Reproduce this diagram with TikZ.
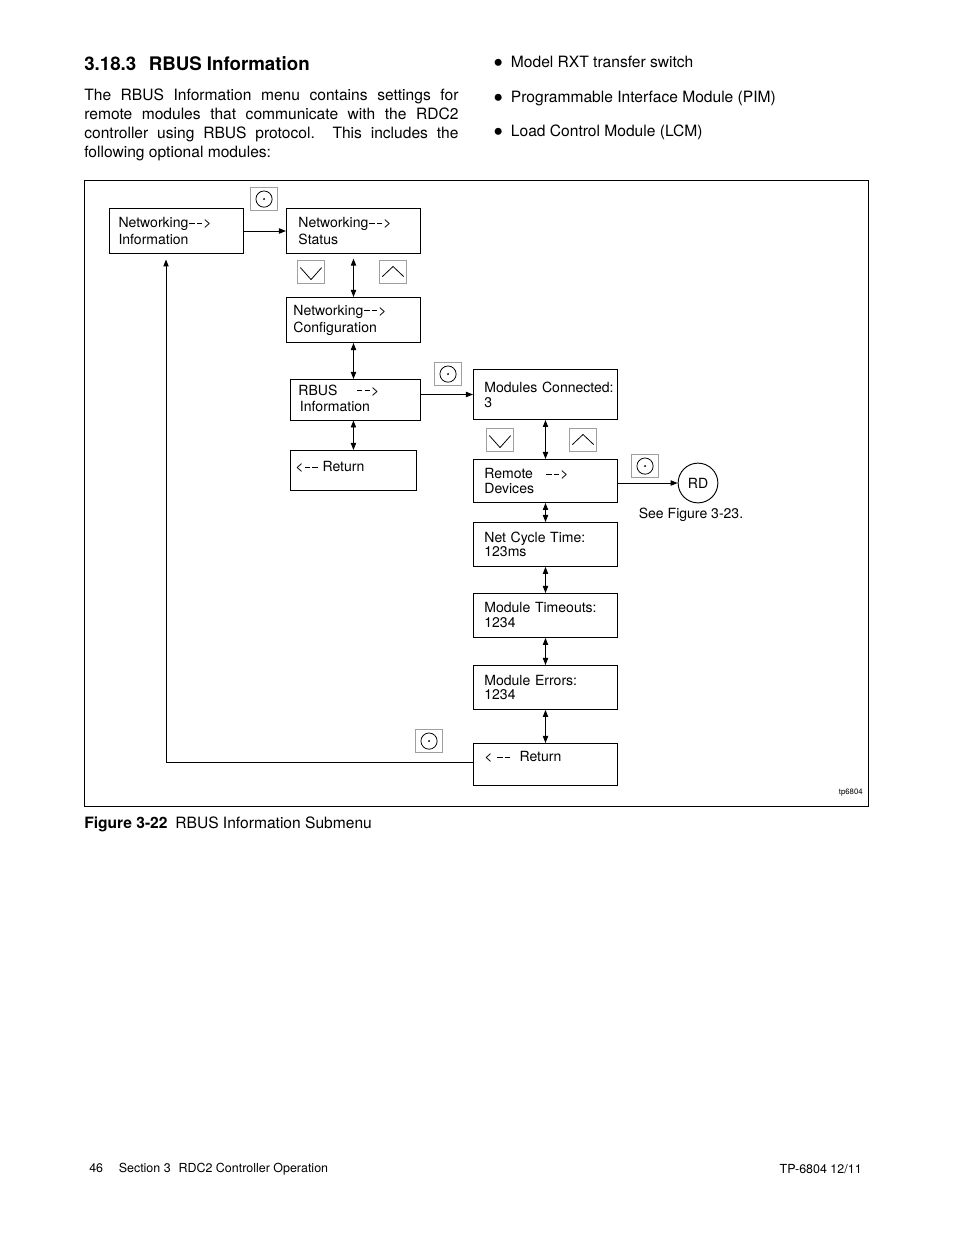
\documentclass[tikz,border=0pt]{standalone}
\usepackage{fontspec}
\setmainfont{TeX Gyre Heros}
\usetikzlibrary{arrows.meta}

\newcommand\dsh{\rule[2.5pt]{3.5pt}{0.6pt}}
\newcommand\rarr{\kern0.6pt\dsh\kern1.3pt\dsh\kern0.7pt>}
\newcommand\ddash{\dsh\kern1.3pt\dsh}
\newcommand\bigbullet{\raisebox{-3.3pt}{\fontsize{18}{12}\selectfont\textbullet}}

\tikzset{
  menubox/.style={draw, line width=0.6pt, anchor=north west, align=left,
    font=\fontsize{9}{11}\selectfont},
  keybox/.style={draw=gray!75, line width=0.7pt, anchor=north west,
    minimum width=17.3pt, minimum height=14.8pt, inner sep=0pt},
  selkey/.style={keybox, path picture={
    \draw[black, line width=0.5pt] (path picture bounding box.center) circle (5.2pt);
    \fill[black] (path picture bounding box.center) circle (0.7pt);}},
  dnkey/.style={keybox, path picture={
    \draw[black, line width=0.5pt] ([xshift=1.8pt,yshift=-4.5pt]path picture bounding box.north west)
      -- ([yshift=2.6pt]path picture bounding box.south)
      -- ([xshift=-1.8pt,yshift=-4.5pt]path picture bounding box.north east);}},
  upkey/.style={keybox, path picture={
    \draw[black, line width=0.5pt] ([xshift=1.8pt,yshift=4.5pt]path picture bounding box.south west)
      -- ([yshift=-3.8pt]path picture bounding box.north)
      -- ([xshift=-1.8pt,yshift=4.5pt]path picture bounding box.south east);}},
  link/.style={line width=0.6pt}
}

\begin{document}
\begin{tikzpicture}[x=0.6415pt, y=-0.6415pt, >={Triangle[length=4.5pt,width=3.4pt]}]
    \useasboundingbox (0,0) rectangle (954,1235);

    % page text
    \node[anchor=west, inner sep=0pt, font=\fontsize{12}{14}\selectfont\bfseries] (head) at (84,64)
        {3.18.3\hspace{8pt}RBUS Information};
    \node[anchor=north west, inner sep=0pt, text width=240pt, align=justify,
          font=\fontsize{10}{12}\selectfont] (intro) at (84,89)
        {The RBUS Information menu contains settings for\linebreak
         remote modules that communicate with the RDC2\linebreak
         controller using RBUS protocol.\ \ This includes the\linebreak
         following optional modules:};
    \node[anchor=west, inner sep=0pt, font=\fontsize{10}{12}\selectfont] (b1) at (493,64)
        {\bigbullet\hspace{5pt}Model RXT transfer switch};
    \node[anchor=west, inner sep=0pt, font=\fontsize{10}{12}\selectfont] (b2) at (493,99)
        {\bigbullet\hspace{5pt}Programmable Interface Module (PIM)};
    \node[anchor=west, inner sep=0pt, font=\fontsize{10}{12}\selectfont] (b3) at (493,133)
        {\bigbullet\hspace{5pt}Load Control Module (LCM)};

    % figure frame
    \draw[line width=0.6pt] (84,180) rectangle (868,806);

    % menu boxes
    \node[menubox, inner xsep=5.8pt, text width=74.4pt, minimum height=28.9pt] (ni) at (109,208)
        {Networking\rarr\\Information};
    \node[menubox, inner xsep=7.7pt, text width=70.6pt, minimum height=28.9pt] (ns) at (286,208)
        {Networking\rarr\\Status};
    \node[menubox, inner xsep=4.5pt, text width=77pt, minimum height=28.9pt] (nc) at (286,297)
        {Networking\rarr\\Configuration};
    \node[menubox, inner xsep=5.1pt, text width=73.2pt, minimum height=25pt,
          font=\fontsize{9}{10.3}\selectfont] (ri) at (290,379)
        {RBUS\hspace{12pt}\rarr\\\hspace*{1pt}Information\\[-8pt]\mbox{}};
    \node[menubox, inner xsep=3.2pt, text width=74.4pt, minimum height=25.7pt,
          font=\fontsize{9}{5}\selectfont] (rr) at (290,450)
        {<\kern0.8pt\ddash\ Return\\\mbox{}};

    \node[menubox, inner xsep=7pt, text width=78.4pt, minimum height=32.1pt,
          font=\fontsize{9}{9.6}\selectfont] (mc) at (473,369)
        {\mbox{Modules Connected:}\\3};
    \node[menubox, inner xsep=7pt, text width=78.4pt, minimum height=27.6pt,
          font=\fontsize{9}{9.2}\selectfont] (rdv) at (473,459)
        {Remote\hspace{8pt}\rarr\\Devices};
    \node[menubox, inner xsep=7pt, text width=78.4pt, minimum height=28.2pt,
          font=\fontsize{9}{9.2}\selectfont] (nt) at (473,522)
        {Net Cycle Time:\\123ms};
    \node[menubox, inner xsep=7pt, text width=78.4pt, minimum height=28.2pt,
          font=\fontsize{9}{9.6}\selectfont] (mt) at (473,593)
        {Module Timeouts:\\1234};
    \node[menubox, inner xsep=7pt, text width=78.4pt, minimum height=28.2pt,
          font=\fontsize{9}{9.2}\selectfont] (me) at (473,665)
        {Module Errors:\\1234};
    \node[menubox, inner xsep=7pt, text width=78.4pt, minimum height=26.9pt,
          font=\fontsize{9}{10}\selectfont] (rt) at (473,743)
        {<\hspace{3pt}\ddash\hspace{6pt}Return\\\mbox{}};

    \node[draw, circle, line width=0.6pt, minimum size=25.5pt, inner sep=0pt,
          font=\fontsize{9}{11}\selectfont] (rd) at (698,483) {RD};
    \node[anchor=north, inner sep=0pt, font=\fontsize{9}{11}\selectfont] (see) at (691,508)
        {See Figure 3-23.};

    % keys
    \node[selkey] (sel1) at (250,187) {};
    \node[dnkey] (dn1) at (297,260) {};
    \node[upkey] (up1) at (379,260) {};
    \node[selkey] (sel2) at (434,362) {};
    \node[dnkey] (dn2) at (486,428) {};
    \node[upkey] (up2) at (569,428) {};
    \node[selkey] (sel3) at (631,454) {};
    \node[selkey] (sel4) at (415,729) {};

    % connectors
    \draw[link, ->] (ni.east) -- (ns.west);
    \draw[link, <->, shorten <=3pt] (ns.south) -- (nc.north);
    \draw[link, <->] (nc.south) -- (nc.south |- ri.north);
    \draw[link, <->] (rr.north |- ri.south) -- (rr.north);
    \draw[link, ->] (mc.west -| ri.east) -- (mc.west);
    \draw[link, <->] (mc.south) -- (rdv.north);
    \draw[link, ->] (rd.west -| rdv.east) -- (rd.west);
    \draw[link, <->] (rdv.south) -- (nt.north);
    \draw[link, <->] (nt.south) -- (mt.north);
    \draw[link, <->] (mt.south) -- (me.north);
    \draw[link, <->] (me.south) -- (rt.north);
    \draw[link, ->, shorten >=3.5pt] ([yshift=1.2pt]rt.west) -| (ni.south -| 166,0);

    \node[anchor=east, inner sep=0pt, font=\fontsize{5}{6}\selectfont] (tag) at (863,793) {tp6804};

    % caption and footer
    \node[anchor=west, inner sep=0pt, font=\fontsize{10}{12}\selectfont] (cap) at (84,824)
        {\textbf{Figure 3-22}\hspace{5pt}RBUS Information Submenu};
    \node[anchor=west, inner sep=0pt, font=\fontsize{8}{10}\selectfont] (foot) at (89,1169)
        {46\hspace{10pt}Section 3\hspace{5pt}RDC2 Controller Operation};
    \node[anchor=east, inner sep=0pt, font=\fontsize{8}{10}\selectfont] (doc) at (862,1169)
        {TP-6804 12/11};
\end{tikzpicture}
\end{document}
